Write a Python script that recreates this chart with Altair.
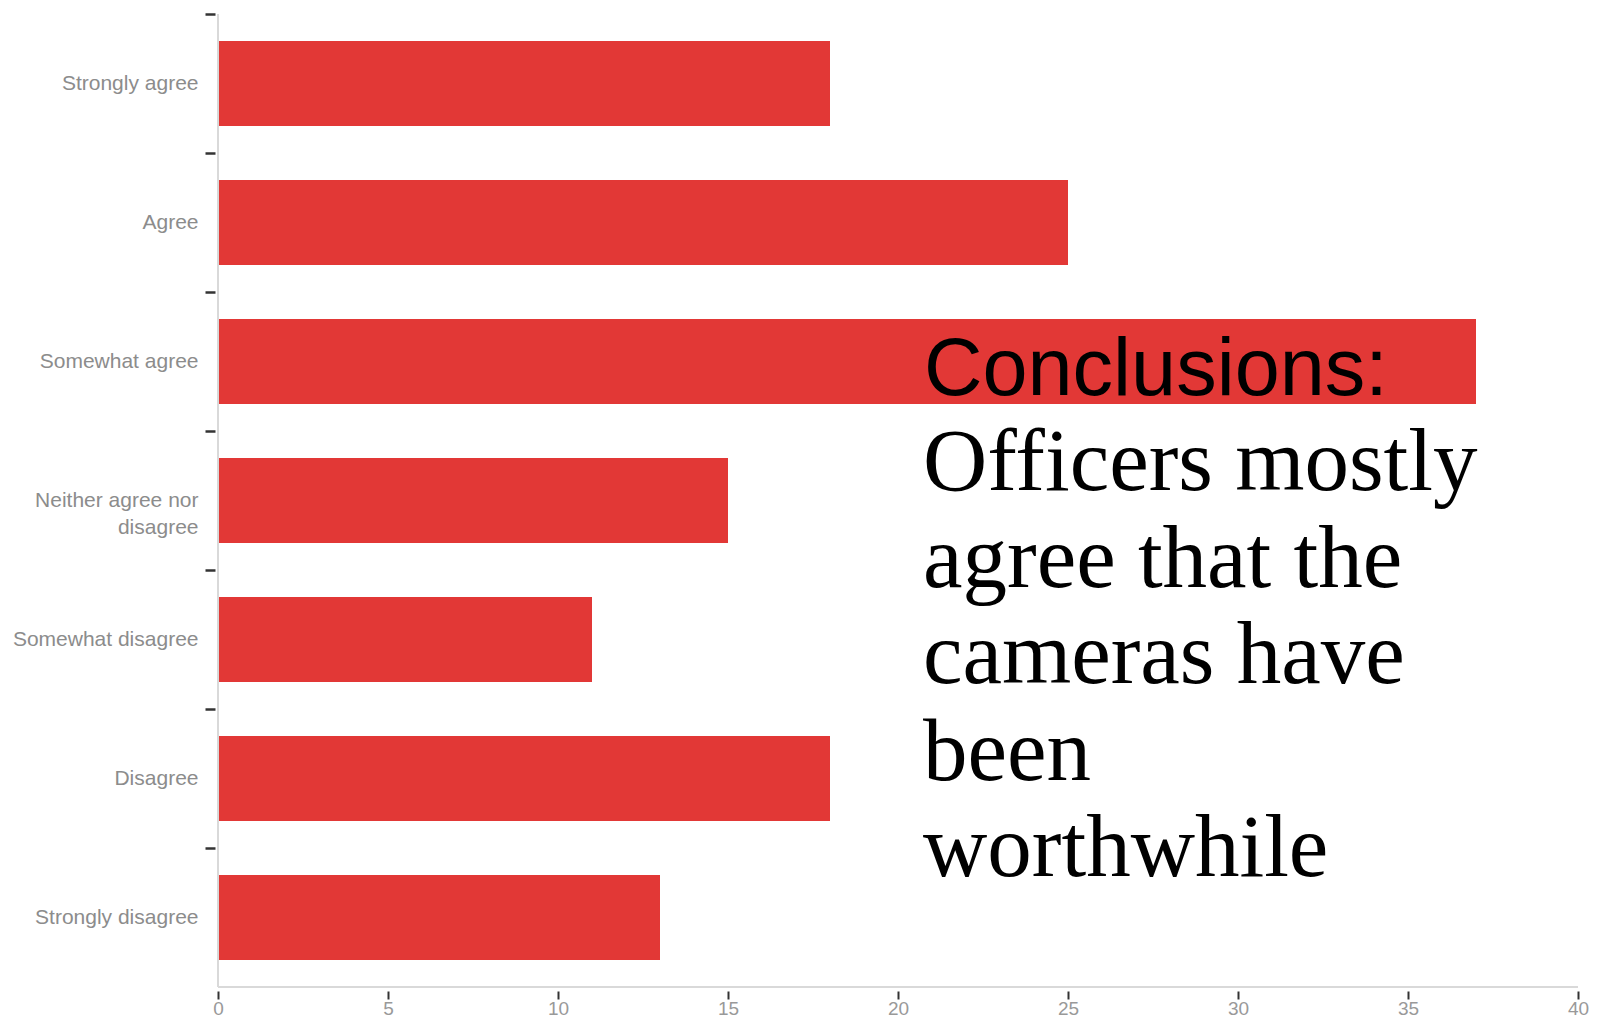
import altair as alt
import pandas as pd

categories = ["Strongly agree", "Agree", "Somewhat agree", "Neither agree nor disagree",
              "Somewhat disagree", "Disagree", "Strongly disagree"]
counts = [18, 25, 37, 15, 11, 18, 13]
x_ticks = [0, 5, 10, 15, 20, 25, 30, 35, 40]
heading = "Conclusions:"
conclusion = "Officers mostly\nagree that the\ncameras have\nbeen\nworthwhile"

W, H = 1360, 973
STEP = H / len(categories)
df = pd.DataFrame({"answer": categories, "count": counts})

bars = alt.Chart(df).mark_bar(color="#e23836").encode(
    x=alt.X("count:Q",
            scale=alt.Scale(domain=[0, 40], nice=False),
            axis=alt.Axis(values=x_ticks, title=None, grid=False, domain=False,
                          offset=4, tickSize=8, tickWidth=2, tickColor="#333333",
                          labelColor="#999999", labelFontSize=19, labelFont="Liberation Sans",
                          labelPadding=0, labelFlush=False)),
    y=alt.Y("answer:N", sort=categories,
            scale=alt.Scale(paddingInner=0.39, paddingOuter=0.195),
            axis=alt.Axis(title=None, grid=False, domain=False, offset=3,
                          tickOffset=-STEP / 2, labelOffset=STEP / 2,
                          tickSize=10, tickWidth=2.5, tickColor="#333333",
                          labelColor="#8c8c8c", labelFontSize=21, labelFont="Liberation Sans",
                          labelPadding=7, labelLineHeight=27, labelLimit=400,
                          labelExpr="datum.label == 'Neither agree nor disagree' ? ['Neither agree nor', 'disagree'] : datum.label")),
)

frame_left = alt.Chart(pd.DataFrame({"a": [0]})).mark_rule(color="#d9d9d9", strokeWidth=2).encode(
    x=alt.value(0), y=alt.value(0), y2=alt.value(H))
frame_bottom = alt.Chart(pd.DataFrame({"a": [0]})).mark_rule(color="#d9d9d9", strokeWidth=2).encode(
    x=alt.value(0), x2=alt.value(W), y=alt.value(H))

head = alt.Chart(pd.DataFrame({"t": [heading]})).mark_text(
    align="left", baseline="alphabetic", font="Liberation Sans", fontSize=81, color="#000000"
).encode(text="t:N", x=alt.value(706), y=alt.value(381))

body = alt.Chart(pd.DataFrame({"t": [conclusion]})).mark_text(
    align="left", baseline="alphabetic", font="Liberation Serif", fontSize=89, color="#000000",
    lineBreak="\n", lineHeight=96.5
).encode(text="t:N", x=alt.value(705), y=alt.value(476))

chart = alt.layer(bars, frame_left, frame_bottom, head, body).properties(
    width=W, height=H,
    padding={"left": 210, "top": 6, "right": 16, "bottom": 32},
    autosize=alt.AutoSizeParams(type="none"),
).configure_view(strokeWidth=0)

chart.save("out.html", embed_options={"renderer": "svg", "actions": False})
